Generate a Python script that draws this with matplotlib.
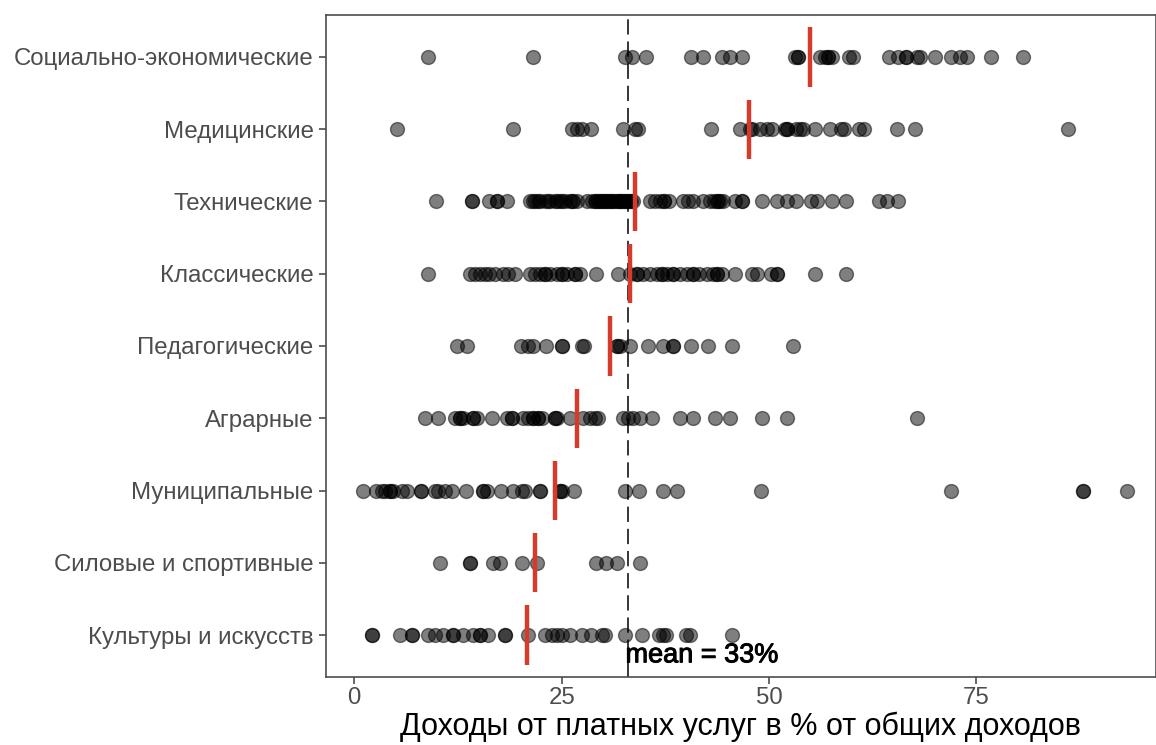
import matplotlib
matplotlib.use("Agg")
import matplotlib.pyplot as plt
import matplotlib.patheffects as pe
import numpy as np

plt.rcParams['font.family'] = ['Liberation Sans', 'DejaVu Sans']

categories = ["Социально-экономические", "Медицинские", "Технические", "Классические",
              "Педагогические", "Аграрные", "Муниципальные", "Силовые и спортивные",
              "Культуры и искусств"]

soc = [8.9, 21.6, 32.6, 33.5, 35.2, 40.6, 42.1, 44.3, 45.3, 46.8, 53.1, 53.5, 53.5, 56.1, 56.7,
       57.1, 57.1, 57.6, 59.7, 60.1, 64.5, 65.5, 66.5, 66.5, 67.8, 68.2, 70.0, 72.0, 73.0, 73.9,
       76.8, 80.6]
med = [5.2, 19.1, 26.3, 26.9, 27.5, 28.6, 32.4, 33.8, 34.2, 43.0, 46.5, 47.7, 48.0, 48.9, 49.7,
       50.4, 51.9, 52.2, 52.2, 53.3, 53.7, 54.1, 55.5, 57.3, 58.7, 59.1, 60.9, 61.5, 65.4, 67.6,
       86.1]
tech = [9.9, 14.2, 14.2, 16.3, 17.2, 17.2, 18.4, 21.2, 21.5, 21.8, 22.1, 22.4, 23.0, 23.3, 23.6,
        24.2, 24.5, 24.8, 25.1, 25.4, 26.0, 26.2, 26.4, 26.8, 28.0, 28.7, 29.0, 29.2, 29.4, 29.6,
        29.8, 30.0, 30.2, 30.4, 30.6, 30.8, 31.0, 31.2, 31.4, 31.7, 31.9, 32.0, 32.2, 32.4, 32.6,
        32.8, 33.0, 33.2, 33.4, 33.6, 35.6, 36.2, 36.8, 37.4, 37.4, 38.0, 39.6, 40.2, 40.8, 42.0,
        42.9, 43.4, 43.7, 43.9, 44.1, 44.4, 45.9, 46.8, 46.8, 49.1, 51.0, 52.2, 53.3, 55.1, 55.8,
        57.6, 59.3, 63.3, 64.2, 65.5]
klass = [8.9, 13.9, 14.5, 15.1, 15.7, 16.3, 17.0, 17.9, 18.5, 19.4, 21.2, 21.8, 22.4, 23.0, 23.0,
         23.6, 24.4, 25.0, 25.0, 25.7, 26.6, 26.6, 27.2, 29.2, 31.8, 33.2, 34.1, 34.1, 34.8, 35.6,
         36.5, 37.1, 37.1, 37.7, 38.4, 38.4, 39.3, 40.1, 40.8, 40.8, 41.6, 42.5, 43.2, 43.7, 43.7,
         44.3, 45.9, 47.9, 48.5, 50.3, 51.0, 51.0, 55.5, 59.3]
ped = [12.4, 13.6, 20.1, 21.0, 21.6, 23.1, 25.0, 25.0, 27.4, 27.7, 31.7, 31.7, 32.0, 33.2, 35.4,
       37.2, 38.4, 38.4, 40.6, 42.6, 45.6, 52.9]
agr = [8.5, 10.1, 12.1, 12.7, 12.7, 13.1, 14.3, 14.3, 14.8, 16.6, 18.4, 19.0, 19.0, 20.3, 20.9,
       21.5, 21.5, 22.1, 22.1, 22.6, 24.2, 24.2, 24.5, 26.0, 27.6, 28.4, 29.0, 29.4, 32.4, 33.0,
       33.6, 34.4, 35.9, 39.3, 40.8, 43.5, 45.3, 49.2, 52.2, 67.8]
mun = [1.0, 2.6, 3.3, 3.7, 4.3, 4.3, 4.7, 5.7, 6.3, 8.0, 8.0, 9.7, 10.1, 10.9, 11.8, 13.5, 15.5,
       15.5, 16.0, 17.7, 19.1, 20.2, 20.6, 22.4, 22.4, 24.8, 24.8, 25.1, 26.5, 32.6, 34.3, 37.2,
       38.9, 49.0, 71.9, 87.9, 87.9, 93.2]
sil = [10.3, 13.9, 13.9, 16.7, 17.6, 20.2, 22.0, 29.2, 30.4, 31.7, 34.4]
kul = [2.1, 2.1, 5.5, 6.9, 6.9, 8.9, 9.7, 10.7, 11.9, 11.9, 13.1, 14.3, 15.1, 15.1, 16.1, 18.2,
       18.2, 20.9, 23.0, 23.8, 24.5, 25.1, 26.0, 27.4, 28.6, 29.9, 30.2, 32.6, 34.7, 36.7, 37.2,
       37.6, 40.0, 40.5, 45.5]
series = [soc, med, tech, klass, ped, agr, mun, sil, kul]
group_means = [55.0, 47.6, 33.9, 33.3, 30.8, 26.8, 24.2, 21.8, 20.8]
overall_mean = 33.0
mean_label = "mean = 33%"
x_ticks = [0, 25, 50, 75]
x_title = "Доходы от платных услуг в % от общих доходов"

fig = plt.figure(figsize=(11.56, 7.45), dpi=100)
ax = fig.add_axes([326/1156, 1-677/745, (1155.5-326)/1156, (677-15)/745])

n = len(categories)
ypos = {c: n - i for i, c in enumerate(categories)}

for c, vals in zip(categories, series):
    y = np.full(len(vals), ypos[c])
    ax.scatter(vals, y, s=100, facecolor=(0, 0, 0, 0.5), edgecolor=(0, 0, 0, 0.5),
               linewidths=1.0, zorder=2)

for c, m in zip(categories, group_means):
    ax.plot([m, m], [ypos[c] - 0.41, ypos[c] + 0.41], color="#d63a2b", lw=3.2,
            solid_capstyle="butt", zorder=3)

ax.axvline(overall_mean, color="black", lw=1.1, dashes=(10, 4.5), zorder=1)
ax.text(overall_mean - 0.3, 0.72, mean_label, fontsize=19.5, color="black", ha="left",
        va="center", zorder=4,
        path_effects=[pe.withStroke(linewidth=0.7, foreground="black")])

ax.set_xlim(-3.41, 96.6)
ax.set_ylim(0.42, 9.58)
ax.set_xticks(x_ticks)
ax.set_xticklabels([str(t) for t in x_ticks])
ax.set_yticks([ypos[c] for c in categories])
ax.set_yticklabels(categories)
ax.tick_params(axis="both", labelsize=17.3, colors="#4d4d4d", length=5, width=1.2)
ax.tick_params(axis="x", pad=2)
ax.tick_params(axis="y", pad=4)
for sp in ax.spines.values():
    sp.set_color("#4d4d4d")
    sp.set_linewidth(1.2)
ax.set_xlabel(x_title, fontsize=22, color="black", labelpad=2)

fig.savefig("out.png", dpi=100)
